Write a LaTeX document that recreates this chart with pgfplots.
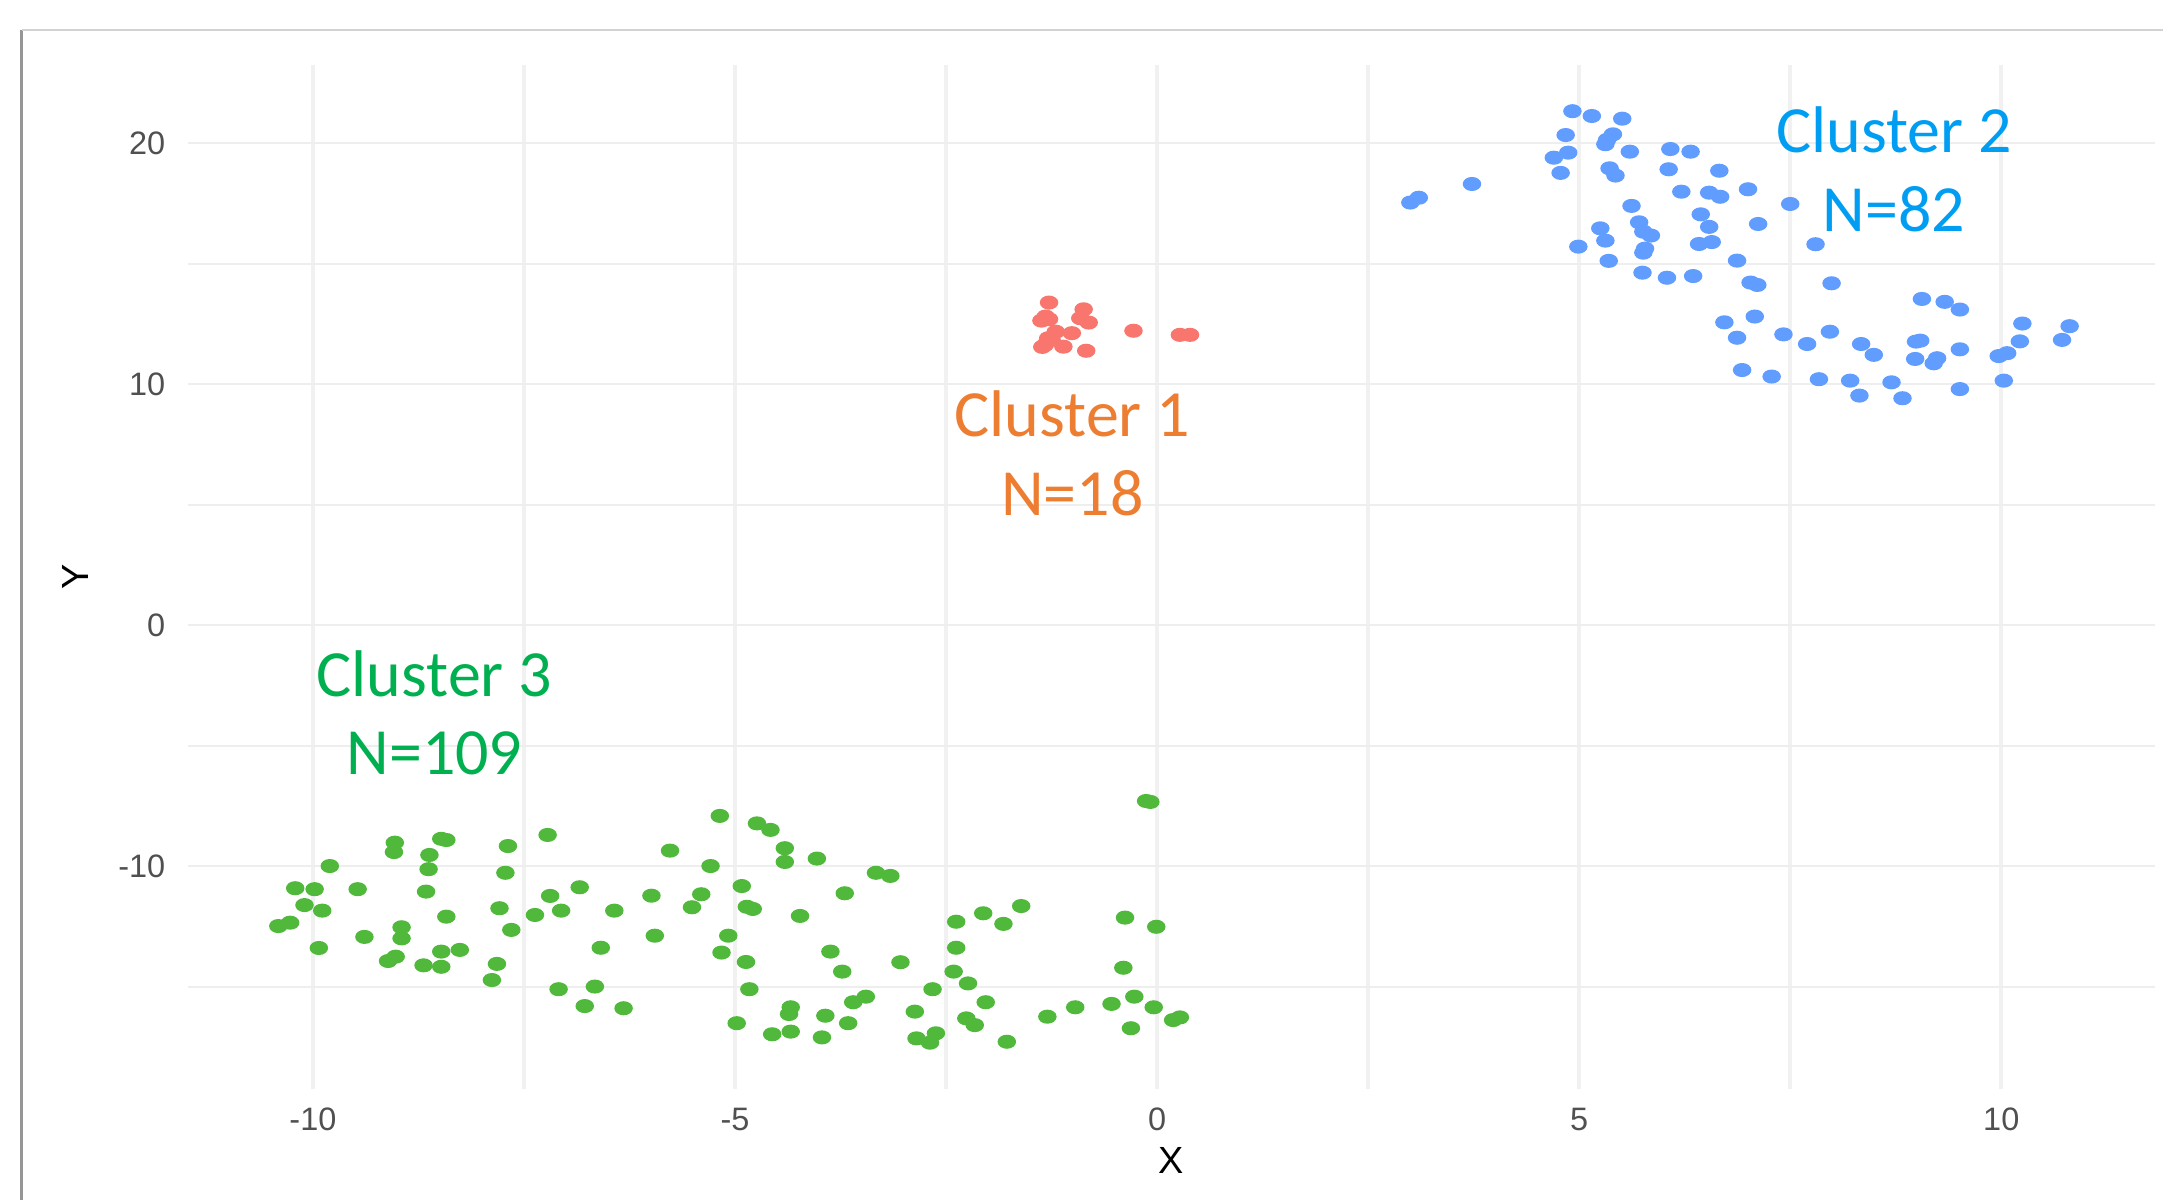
\documentclass[border=0pt]{standalone}
\usepackage{pgfplots}
\pgfplotsset{compat=1.18}
\usepackage{fontspec}
\setmainfont{Liberation Sans}
\newfontfamily\carlito{Carlito}
\definecolor{cred}{HTML}{F8766D}
\definecolor{cblue}{HTML}{619CFF}
\definecolor{cgreen}{RGB}{80,185,60}
\definecolor{torange}{HTML}{ED7D31}
\definecolor{tblue}{RGB}{0,158,242}
\definecolor{tgreen}{HTML}{00B050}
\definecolor{gridc}{RGB}{238,238,238}
\definecolor{vgridc}{RGB}{241,241,241}
\definecolor{tickc}{RGB}{80,80,80}
\begin{document}
\begin{tikzpicture}
\path[use as bounding box, fill=white] (0,0) rectangle (600pt,332.87pt);
\draw[line width=0.7pt, color={rgb,255:red,150;green,150;blue,150}] (6.0pt,0) -- (6.0pt,324.5pt);
\draw[line width=0.5pt, color={rgb,255:red,210;green,210;blue,210}] (6.0pt,324.5pt) -- (600pt,324.5pt);
\begin{axis}[
  at={(52.15pt,30.73pt)}, anchor=south west,
  scale only axis, width=545.6pt, height=284.2pt,
  xmin=-11.48, xmax=11.82, ymin=-19.25, ymax=23.26,
  axis line style={draw=none},
  major tick length=0pt, minor tick length=0pt,
  xtick={-10,-5,0,5,10}, xticklabels={-10,-5,0,5,10},
  minor xtick={-7.5,-2.5,2.5,7.5},
  ytick={-10,0,10,20}, yticklabels={-10,0,10,20},
  minor ytick={-15,-5,5,15},
  grid=both,
  x grid style={vgridc, line width=1.0pt},
  minor x grid style={vgridc, line width=1.0pt},
  y grid style={gridc, line width=0.55pt},
  minor y grid style={gridc, line width=0.55pt},
  tick label style={font=\fontsize{9}{11}\selectfont, text=tickc},
  xticklabel style={inner sep=0pt, anchor=north, yshift=-5pt},
  yticklabel style={inner sep=0pt, anchor=east, xshift=-6.1pt},
  xlabel={X}, ylabel={Y},
  label style={font=\fontsize{10.5}{12}\selectfont, text=black},
  xlabel style={at={(axis description cs:0.5,-0.0693)}, anchor=center},
  ylabel style={at={(axis description cs:-0.057,0.5)}, anchor=center},
  every axis plot/.append style={only marks, mark=*, mark size=1.75pt},
]
% Cluster 1
\addplot[cred, mark options={fill=cred, draw=none, xscale=1.35}] coordinates {
(-1.28,13.39) (-0.87,13.11) (-1.32,12.81) (-1.37,12.64) (-0.91,12.74) (-0.81,12.56)
(-1.20,12.18) (-1.29,11.91) (-1.33,11.63) (-1.01,12.12) (-1.11,11.56) (-0.84,11.39)
(-0.28,12.22) (0.27,12.05) (0.39,12.05) (-1.28,12.70) (-1.25,11.85) (-1.36,11.55)
};
% Cluster 2
\addplot[cblue, mark options={fill=cblue, draw=none, xscale=1.35}] coordinates {
(3.00,17.54) (3.10,17.74) (3.73,18.31) (4.92,21.33) (5.15,21.13) (5.51,21.02)
(4.84,20.34) (5.40,20.37) (5.33,20.14) (5.31,19.96) (4.87,19.61) (4.70,19.40)
(5.60,19.65) (6.08,19.76) (6.32,19.65) (4.78,18.77) (5.36,18.96) (5.43,18.66)
(6.06,18.92) (6.66,18.86) (6.21,17.99) (6.54,17.95) (6.67,17.78) (7.00,18.09)
(5.62,17.40) (6.44,17.05) (7.12,16.65) (5.25,16.47) (5.71,16.72) (5.76,16.33)
(5.85,16.17) (6.54,16.53) (5.31,15.96) (4.99,15.71) (5.78,15.63) (5.76,15.46)
(6.42,15.82) (6.57,15.90) (5.35,15.12) (6.87,15.13) (5.75,14.63) (6.04,14.42)
(6.35,14.49) (7.03,14.22) (7.11,14.12) (7.08,12.81) (6.72,12.57) (6.87,11.93)
(6.93,10.59) (7.50,17.48) (7.80,15.81) (7.99,14.19) (9.06,13.54) (9.33,13.42)
(9.51,13.10) (10.25,12.52) (10.81,12.41) (7.42,12.07) (7.97,12.18) (7.70,11.67)
(8.34,11.67) (8.49,11.22) (9.04,11.81) (8.99,11.77) (10.22,11.78) (10.72,11.84)
(9.51,11.45) (8.98,11.05) (9.24,11.08) (9.20,10.87) (9.97,11.17) (10.07,11.29)
(7.28,10.32) (7.84,10.21) (8.21,10.15) (8.70,10.08) (10.03,10.15) (8.32,9.53)
(8.83,9.42) (9.51,9.80)
};
% Cluster 3
\addplot[cgreen, mark options={fill=cgreen, draw=none, xscale=1.35}] coordinates {
(-10.41,-12.48) (-10.27,-12.34) (-10.21,-10.91) (-9.98,-10.95) (-9.80,-9.99) (-10.10,-11.61)
(-9.89,-11.84) (-9.93,-13.39) (-9.47,-10.95) (-9.39,-12.93) (-9.03,-9.02) (-9.04,-9.41)
(-9.11,-13.93) (-9.02,-13.75) (-8.95,-12.53) (-8.95,-12.99) (-8.69,-14.11) (-8.48,-8.86)
(-8.42,-8.91) (-8.62,-9.53) (-8.63,-10.12) (-8.66,-11.05) (-8.42,-12.09) (-8.48,-13.54)
(-8.48,-14.17) (-8.26,-13.47) (-7.69,-9.16) (-7.72,-10.27) (-7.79,-11.74) (-7.65,-12.64)
(-7.82,-14.05) (-7.88,-14.72) (-7.22,-8.70) (-7.37,-12.02) (-7.19,-11.23) (-7.06,-11.84)
(-6.84,-10.87) (-7.09,-15.10) (-6.78,-15.80)
(-6.66,-14.99) (-6.32,-15.89) (-6.59,-13.38) (-6.43,-11.84) (-5.95,-12.88) (-5.99,-11.22)
(-5.77,-9.35) (-5.51,-11.70) (-5.40,-11.16) (-5.29,-9.99) (-5.18,-7.91) (-4.92,-10.82)
(-4.86,-11.68) (-4.79,-11.77) (-5.08,-12.88) (-5.16,-13.58) (-4.87,-13.97) (-4.83,-15.10)
(-4.98,-16.51) (-4.74,-8.22) (-4.58,-8.49) (-4.41,-9.25) (-4.41,-9.82) (-4.03,-9.68)
(-4.23,-12.06) (-3.70,-11.12) (-3.33,-10.27) (-3.16,-10.40) (-3.87,-13.54) (-3.73,-14.37)
(-3.04,-13.98) (-4.34,-15.85) (-4.36,-16.13) (-4.56,-16.97) (-4.34,-16.86) (-3.93,-16.20)
(-3.97,-17.10) (-3.66,-16.51) (-3.60,-15.64) (-3.45,-15.41)
(-2.66,-15.10) (-2.87,-16.03) (-2.85,-17.14) (-2.69,-17.32) (-2.62,-16.93) (-2.38,-12.30)
(-2.38,-13.38) (-2.41,-14.37) (-2.24,-14.86) (-2.06,-11.95) (-1.82,-12.39) (-1.61,-11.65)
(-2.03,-15.64) (-2.26,-16.31) (-2.16,-16.59) (-1.78,-17.28) (-1.30,-16.24) (-0.97,-15.85)
(-0.54,-15.71) (-0.27,-15.41) (-0.04,-15.85) (-0.31,-16.72) (0.19,-16.38) (0.27,-16.27)
(-0.38,-12.13) (-0.01,-12.51) (-0.40,-14.21) (-0.13,-7.29) (-0.08,-7.33)
};
\end{axis}
\begin{scope}[every node/.style={inner sep=0pt, anchor=base, font=\carlito\fontsize{18.3}{22}\selectfont}]
\node[text=tblue] at (525.4pt,290.5pt) {Cluster 2};
\node[text=tblue] at (525.4pt,268.6pt) {N=82};
\node[text=torange] at (297.5pt,211.9pt) {Cluster 1};
\node[text=torange] at (297.5pt,190.0pt) {N=18};
\node[text=tgreen] at (120.5pt,139.8pt) {Cluster 3};
\node[text=tgreen] at (120.5pt,117.9pt) {N=109};
\end{scope}
\end{tikzpicture}
\end{document}
